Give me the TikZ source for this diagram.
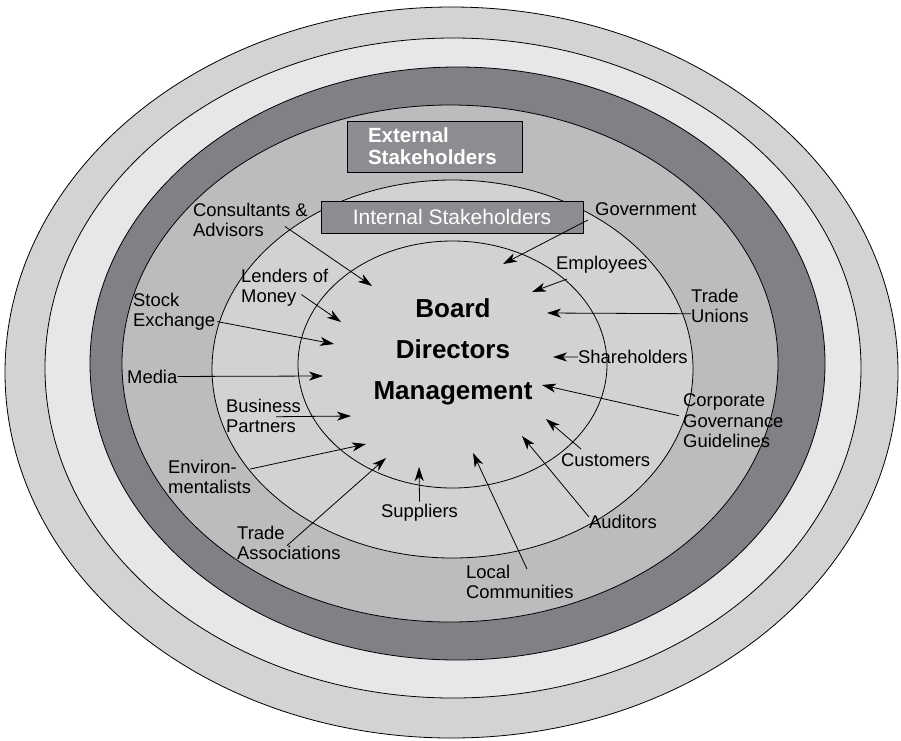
\documentclass[tikz,border=0pt]{standalone}
\usepackage{fontspec}
\setmainfont{Liberation Sans}
\usetikzlibrary{arrows.meta}

\definecolor{ringout}{HTML}{D2D3D5}
\definecolor{ringpale}{HTML}{E6E7E8}
\definecolor{ringdark}{HTML}{808184}
\definecolor{ringmid}{HTML}{BBBCBE}
\definecolor{ringin}{HTML}{D1D2D4}
\definecolor{tagfill}{HTML}{8C8D90}

\tikzset{
  ring/.style={draw=black, line width=0.8pt},
  lbl/.style={font=\fontsize{18.4}{20.5}\selectfont, align=left, inner sep=0pt, anchor=north west},
  arr/.style={-{Stealth[length=14pt,width=9pt,inset=4pt]}, line width=0.8pt},
  tagbox/.style={draw=black, fill=tagfill, text=white, line width=0.8pt}
}

\begin{document}
\begin{tikzpicture}[x=1pt,y=-1pt]
    \useasboundingbox (0,0) rectangle (901,740);
    % rings
    \draw[ring,fill=ringout] (451.5,372.5) ellipse (446.5 and 365.5);
    \draw[ring,fill=ringpale] (453,368) ellipse (408 and 330);
    \draw[ring,fill=ringdark] (457.5,363.5) ellipse (367.5 and 296.5);
    \draw[ring,fill=ringmid] (450,363.5) ellipse (328 and 258.5);
    \draw[ring,fill=ringin] (452.5,369) ellipse (240.5 and 189);
    \draw[ring] (452.5,364.5) ellipse (154.5 and 123.5);

    % titles
    \node[tagbox, minimum width=175pt, minimum height=51pt, text width=133pt, align=left,
          font=\bfseries\fontsize{20.5}{22}\selectfont] (ext) at (434.5,146.5) {External\\Stakeholders};
    \node[tagbox, minimum width=262pt, minimum height=32pt,
          font=\fontsize{21}{24}\selectfont] (int) at (452,217) {Internal Stakeholders};
    \node[align=center, anchor=north, inner sep=0pt,
          font=\bfseries\fontsize{26}{41}\selectfont] (core) at (453,298) {Board\\Directors\\Management};

    % stakeholders
    \node[lbl] (cons) at (193,202.5) {Consultants \&\\Advisors};
    \node[lbl] (lend) at (241,268.5) {Lenders of\\Money};
    \node[lbl] (stock) at (133,292.5) {Stock\\Exchange};
    \node[lbl] (media) at (127,369.5) {Media};
    \node[lbl] (busi) at (226,398.5) {Business\\Partners};
    \node[lbl] (envi) at (168,459.5) {Environ-\\mentalists};
    \node[lbl] (tass) at (237,525.5) {Trade\\Associations};
    \node[lbl] (supp) at (381,503.5) {Suppliers};
    \node[lbl] (loca) at (466,564.5) {Local\\Communities};
    \node[lbl] (audi) at (589,514.5) {Auditors};
    \node[lbl] (cust) at (561,453.5) {Customers};
    \node[lbl] (corp) at (683,393.5) {Corporate\\Governance\\Guidelines};
    \node[lbl] (share) at (578,350) {Shareholders};
    \node[lbl] (tuni) at (691,288.5) {Trade\\Unions};
    \node[lbl] (empl) at (556,255.5) {Employees};
    \node[lbl] (gove) at (595,202.5) {Government};

    % arrow heads
    \coordinate (cons-h) at (372,286);
    \coordinate (lend-h) at (341,322);
    \coordinate (stock-h) at (334,344);
    \coordinate (media-h) at (323,376);
    \coordinate (busi-h) at (351,416);
    \coordinate (envi-h) at (366,444);
    \coordinate (tass-h) at (386,458);
    \coordinate (supp-h) at (419,467);
    \coordinate (loca-h) at (473,453);
    \coordinate (audi-h) at (522,436);
    \coordinate (cust-h) at (546,419);
    \coordinate (corp-h) at (542,385);
    \coordinate (share-h) at (553,357);
    \coordinate (tuni-h) at (547,313);
    \coordinate (empl-h) at (532,292);
    \coordinate (gove-h) at (503,264);

    % arrows
    \draw[arr] ([shift={(-23,-10.5)}]cons.south east) -- (cons-h);
    \draw[arr] ([shift={(-27,-12)}]lend.south east) -- (lend-h);
    \draw[arr] ([shift={(2,-9)}]stock.south east) -- (stock-h);
    \draw[arr] (media.east) -- (media-h);
    \draw[arr] ([shift={(-25,1)}]busi.east) -- (busi-h);
    \draw[arr] ([shift={(-1,9.5)}]envi.north east) -- (envi-h);
    \draw[arr] ([shift={(-2,3)}]tass.center) -- (tass-h);
    \draw[arr] ([shift={(0,-2)}]supp.north) -- (supp-h);
    \draw[arr] ([shift={(61,4.5)}]loca.north west) -- (loca-h);
    \draw[arr] ([shift={(0,2.5)}]audi.north west) -- (audi-h);
    \draw[arr] ([shift={(20,-4.5)}]cust.north west) -- (cust-h);
    \draw[arr] ([shift={(-4,-5)}]corp.west) -- (corp-h);
    \draw[arr] (share.west) -- (share-h);
    \draw[arr] ([shift={(0,8)}]tuni.west) -- (tuni-h);
    \draw[arr] ([shift={(11,6)}]empl.south west) -- (empl-h);
    \draw[arr] ([shift={(-7,4)}]gove.south west) -- (gove-h);
\end{tikzpicture}
\end{document}
